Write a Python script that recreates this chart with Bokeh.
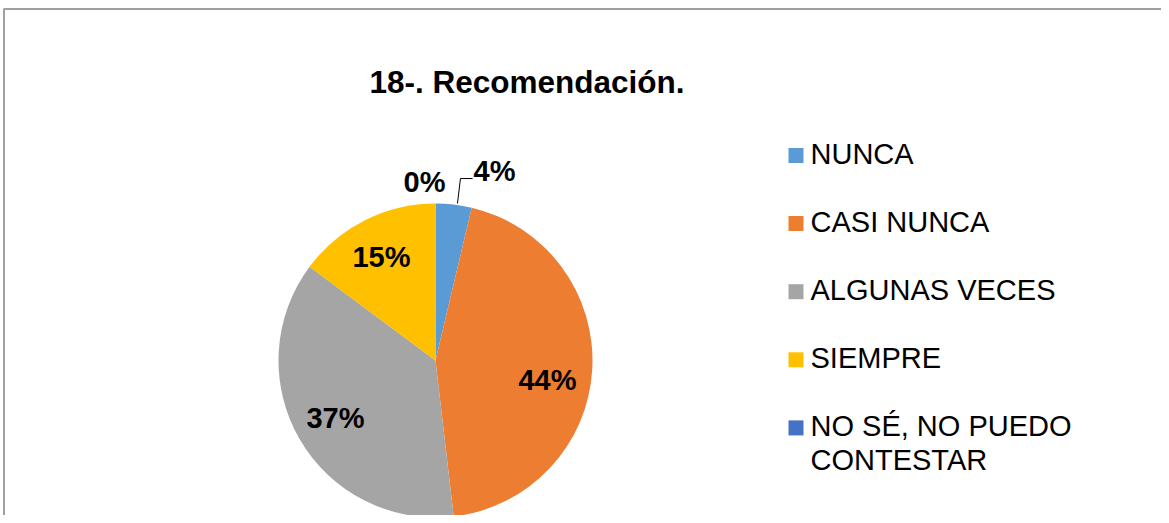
import math
import textwrap
from bokeh.plotting import figure
from bokeh.models import Range1d, ColumnDataSource
from bokeh.core.properties import value
from bokeh.embed import file_html
from bokeh.resources import INLINE

# ---- data ----
title = "18-. Recomendación."
categories = ["NUNCA", "CASI NUNCA", "ALGUNAS VECES", "SIEMPRE", "NO SÉ, NO PUEDO CONTESTAR"]
counts = [1, 12, 10, 4, 0]
colors = ["#5B9BD5", "#ED7D31", "#A5A5A5", "#FFC000", "#4472C4"]

# ---- layout (screenshot pixel coordinates) ----
W, H = 1161, 515
def X(sx):
    return sx
def Y(sy):
    return H - sy

cx, cy, R = 435, 360, 157
# label anchor positions relative to pie center, in radius units (style)
label_pos = [(0.376, 1.210), (0.713, -0.127), (-0.637, -0.369), (-0.344, 0.662), (-0.070, 1.140)]

FONT = "Liberation Sans"

p = figure(width=W, height=H, output_backend="svg", toolbar_location=None,
           x_range=Range1d(0, W), y_range=Range1d(0, H), min_border=0,
           outline_line_color=None)
p.axis.visible = False
p.grid.visible = False
p.background_fill_color = "white"
p.border_fill_color = "white"

# chart border (top and left visible)
p.line([X(3.5), X(3.5), X(1168)], [Y(530), Y(8.5), Y(8.5)], line_color="#a0a0a0", line_width=2)

total = sum(counts)
starts, ends, wcols = [], [], []
cum = 0.0
for c, col in zip(counts, colors):
    a0 = cum / total * 2 * math.pi
    cum += c
    a1 = cum / total * 2 * math.pi
    if c <= 0:
        continue
    # clockwise from 12 o'clock
    starts.append(math.pi / 2 - a1)
    ends.append(math.pi / 2 - a0)
    wcols.append(col)

src = ColumnDataSource(dict(start=starts, end=ends, color=wcols))
p.wedge(x=X(cx), y=Y(cy), radius=R, start_angle="start", end_angle="end",
        fill_color="color", line_color=None, source=src)

# data labels
lab_x, lab_y, lab_t = [], [], []
for c, (fx, fy) in zip(counts, label_pos):
    pct = round(c / total * 100)
    lab_t.append(f"{pct}%")
    lab_x.append(X(cx + fx * R))
    lab_y.append(Y(cy - fy * R))
p.text(lab_x, lab_y, text=lab_t, text_font=value(FONT), text_font_style="bold",
       text_font_size="29px", text_align="center", text_baseline="alphabetic", text_color="black")

# leader line for first label
p.line([X(cx + 0.140 * R), X(cx + 0.159 * R), X(cx + 0.236 * R)],
       [Y(cy - 1.0 * R), Y(cy - 1.159 * R), Y(cy - 1.159 * R)],
       line_color="black", line_width=1)

# title
p.text([X(526.5)], [Y(81)], text=[title], text_font=value(FONT), text_font_style="bold",
       text_font_size="31.5px", text_align="center", text_baseline="alphabetic", text_color="black")

# legend
leg_y0, leg_step = 155, 68.1
sq_x, sq = 795.5, 15
txt_x = 810
lx, ly, lt = [], [], []
for i, (cat, col) in enumerate(zip(categories, colors)):
    yc = leg_y0 + i * leg_step
    p.rect(x=X(sq_x), y=Y(yc), width=sq, height=sq, fill_color=col, line_color=None)
    for j, line in enumerate(textwrap.wrap(cat, 16)):
        lx.append(X(txt_x))
        ly.append(Y(yc - 2 + j * 34))
        lt.append(line)
p.text(lx, ly, text=lt, text_font=value(FONT), text_font_size="29px",
       text_align="left", text_baseline="alphabetic", text_color="black")

open("out.html", "w").write(file_html(p, INLINE))
